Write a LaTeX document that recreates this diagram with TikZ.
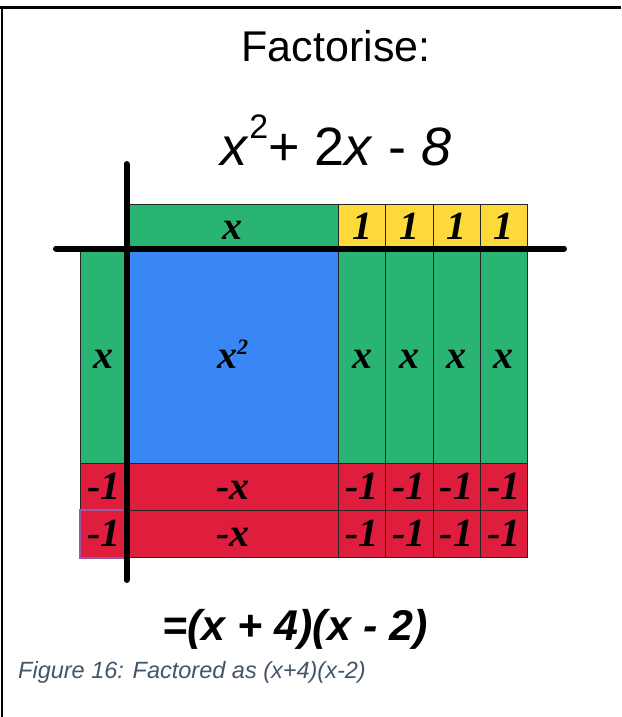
\documentclass[tikz,border=0pt]{standalone}
\usepackage{fontspec}
\setmainfont{Liberation Sans}
\newfontfamily\tilefont{Liberation Serif}
\definecolor{tilegreen}{RGB}{42,180,115}
\definecolor{tileblue}{RGB}{56,135,245}
\definecolor{tileyellow}{RGB}{253,218,58}
\definecolor{tilered}{RGB}{222,30,60}
\definecolor{captionblue}{RGB}{68,84,106}
\definecolor{framepurple}{RGB}{150,90,165}
\tikzset{
  tile/.style={draw=black!85,line width=0.9pt,inner sep=0pt,anchor=north west,
    text height=25pt,text depth=0pt,
    font=\tilefont\bfseries\itshape\fontsize{40}{40}\selectfont},
  axis/.style={line width=6pt,line cap=round},
}
\begin{document}
\begin{tikzpicture}[x=1pt,y=-1pt]
  \useasboundingbox (0,0) rectangle (621,717);
  % frame
  \draw[line width=2.5pt] (0,7.5) -- (621,7.5);
  \draw[line width=2pt] (1.5,7.5) -- (1.5,717);
  % headings
  \node[anchor=base,font=\fontsize{43}{43}\selectfont] (title) at (336,62) {Factorise:};
  \node[anchor=base,font=\fontsize{54}{54}\selectfont] (poly) at (336,165)
    {\textit{x}\raisebox{0.5em}{\fontsize{34}{34}\selectfont 2}+ 2\textit{x} - \textit{8}};
  % top row
  \node[tile,fill=tilegreen,minimum width=211.5,minimum height=44.5] (topx) at (126.5,204) {x};
  \foreach \i in {1,...,4}
    \node[tile,fill=tileyellow,minimum width=47.25,minimum height=44.5] (one\i) at (290.75+47.25*\i,204) {1};
  % middle row
  \node[tile,fill=tilegreen,minimum width=46.5,minimum height=214.5] (leftx) at (80,248.5) {x};
  \node[tile,fill=tileblue,minimum width=211.5,minimum height=214.5] (sq) at (126.5,248.5)
    {x\raisebox{0.35em}{\fontsize{22}{22}\selectfont 2}};
  \foreach \i in {1,...,4}
    \node[tile,fill=tilegreen,minimum width=47.25,minimum height=214.5] (xcol\i) at (290.75+47.25*\i,248.5) {x};
  % negative rows
  \foreach \r in {1,2} {
    \node[tile,fill=tilered,minimum width=46.5,minimum height=47] (negl\r) at (80,416+47*\r) {-1};
    \node[tile,fill=tilered,minimum width=211.5,minimum height=47] (negx\r) at (126.5,416+47*\r) {-x};
    \foreach \i in {1,...,4}
      \node[tile,fill=tilered,minimum width=47.25,minimum height=47] (neg\r\i) at (290.75+47.25*\i,416+47*\r) {-1};
  }
  \draw[framepurple,line width=2pt] (negl2.north west) rectangle (negl2.south east);
  % axes
  \coordinate (vtop) at (126.5,164);
  \coordinate (vbot) at (126.5,580);
  \coordinate (hleft) at (56,248.5);
  \coordinate (hright) at (564,248.5);
  \draw[axis] (vtop) -- (vbot);
  \draw[axis] (hleft) -- (hright);
  % answer
  \node[anchor=base,font=\bfseries\itshape\fontsize{43}{43}\selectfont] (result) at (295,640) {=(x + 4)(x - 2)};
  \node[anchor=base west,inner sep=0pt,text=captionblue,font=\itshape\fontsize{23.5}{23.5}\selectfont] (caption) at (18,678)
    {Figure 16: Factored as (x+4)(x-2)};
\end{tikzpicture}
\end{document}
